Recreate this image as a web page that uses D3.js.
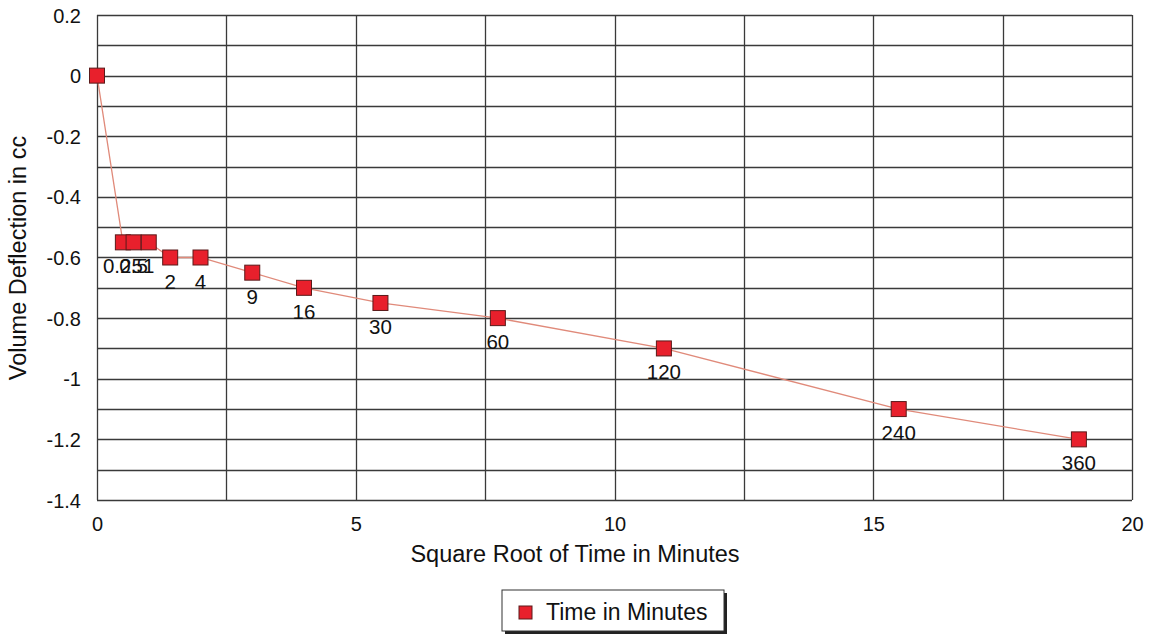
<!DOCTYPE html>
<html><head><meta charset="utf-8">
<script src="https://cdn.jsdelivr.net/npm/d3@7/dist/d3.min.js"></script>
<style>body{margin:0;background:#fff}svg{display:block}text{font-family:"Liberation Sans",Arial,sans-serif;fill:#111}</style>
</head><body><svg id="c" width="1149" height="635"></svg>
<script>
const timeMinutes = [0, 0.25, 0.5, 1, 2, 4, 9, 16, 30, 60, 120, 240, 360];
const deflection = [0, -0.55, -0.55, -0.55, -0.6, -0.6, -0.65, -0.7, -0.75, -0.8, -0.9, -1.1, -1.2];
const pointLabels = ["", "0.25", "0.5", "1", "2", "4", "9", "16", "30", "60", "120", "240", "360"];
const xTicks = [0, 5, 10, 15, 20];
const yTicks = [0.2, 0, -0.2, -0.4, -0.6, -0.8, -1, -1.2, -1.4];

const svg = d3.select("#c");
const L = 97, R = 1132, T = 15, B = 500;
const x = d3.scaleLinear().domain([0, 20]).range([L, R]);
const y = d3.scaleLinear().domain([-1.4, 0.2]).range([B, T]);

const data = timeMinutes.map((t, i) => ({sx: Math.sqrt(t), v: deflection[i], lab: pointLabels[i]}));

// grid
const g = svg.append("g");
d3.range(-1.4, 0.2001, 0.1).forEach(v => {
  g.append("line").attr("x1", L).attr("x2", R).attr("y1", Math.round(y(v)) + 0.5).attr("y2", Math.round(y(v)) + 0.5)
    .attr("stroke", "#3a3a3a").attr("stroke-width", 1.3);
});
d3.range(0, 20.01, 2.5).forEach(v => {
  g.append("line").attr("y1", T).attr("y2", B).attr("x1", Math.round(x(v)) + 0.5).attr("x2", Math.round(x(v)) + 0.5)
    .attr("stroke", "#3a3a3a").attr("stroke-width", 1.3);
});

const fmt = d => String(+(+d).toFixed(1));

// axes
const xa = svg.append("g").attr("transform", `translate(0,${B + 14})`)
  .call(d3.axisBottom(x).tickValues(xTicks).tickSize(0).tickFormat(fmt));
xa.select(".domain").remove();
xa.selectAll("text").style("font-size", "20px").attr("fill", "#111");
const ya = svg.append("g").attr("transform", `translate(${L - 13},0)`)
  .call(d3.axisLeft(y).tickValues(yTicks).tickSize(0).tickFormat(fmt));
ya.select(".domain").remove();
ya.selectAll("text").style("font-size", "20px").attr("fill", "#111").attr("dy", "0.35em");

// axis titles
svg.append("text").attr("x", 575).attr("y", 562).attr("text-anchor", "middle").style("font-size", "23.5px")
  .text("Square Root of Time in Minutes");
svg.append("text").attr("transform", "translate(26,258) rotate(-90)").attr("text-anchor", "middle").style("font-size", "23.5px")
  .text("Volume Deflection in cc");

// line
svg.append("path").datum(data)
  .attr("d", d3.line().x(d => x(d.sx)).y(d => y(d.v)))
  .attr("fill", "none").attr("stroke", "#e08a7a").attr("stroke-width", 1.3);

// markers
const s = 15;
svg.append("g").selectAll("rect").data(data).join("rect")
  .attr("x", d => x(d.sx) - s / 2).attr("y", d => y(d.v) - s / 2).attr("width", s).attr("height", s)
  .attr("fill", "#e8202c").attr("stroke", "#5a1a1a").attr("stroke-width", 1);

// labels
svg.append("g").selectAll("text").data(data).join("text")
  .attr("x", d => x(d.sx)).attr("y", d => y(d.v) + 31).attr("text-anchor", "middle")
  .style("font-size", "20.5px").text(d => d.lab);

// legend
const lg = svg.append("g");
lg.append("rect").attr("x", 505).attr("y", 593).attr("width", 222).attr("height", 41).attr("fill", "#222");
lg.append("rect").attr("x", 502).attr("y", 590).attr("width", 222).attr("height", 41).attr("fill", "#fff").attr("stroke", "#333").attr("stroke-width", 1);
lg.append("rect").attr("x", 519).attr("y", 606).attr("width", 13).attr("height", 13).attr("fill", "#e8202c").attr("stroke", "#5a1a1a");
lg.append("text").attr("x", 546).attr("y", 620).style("font-size", "23px").text("Time in Minutes");
</script></body></html>
